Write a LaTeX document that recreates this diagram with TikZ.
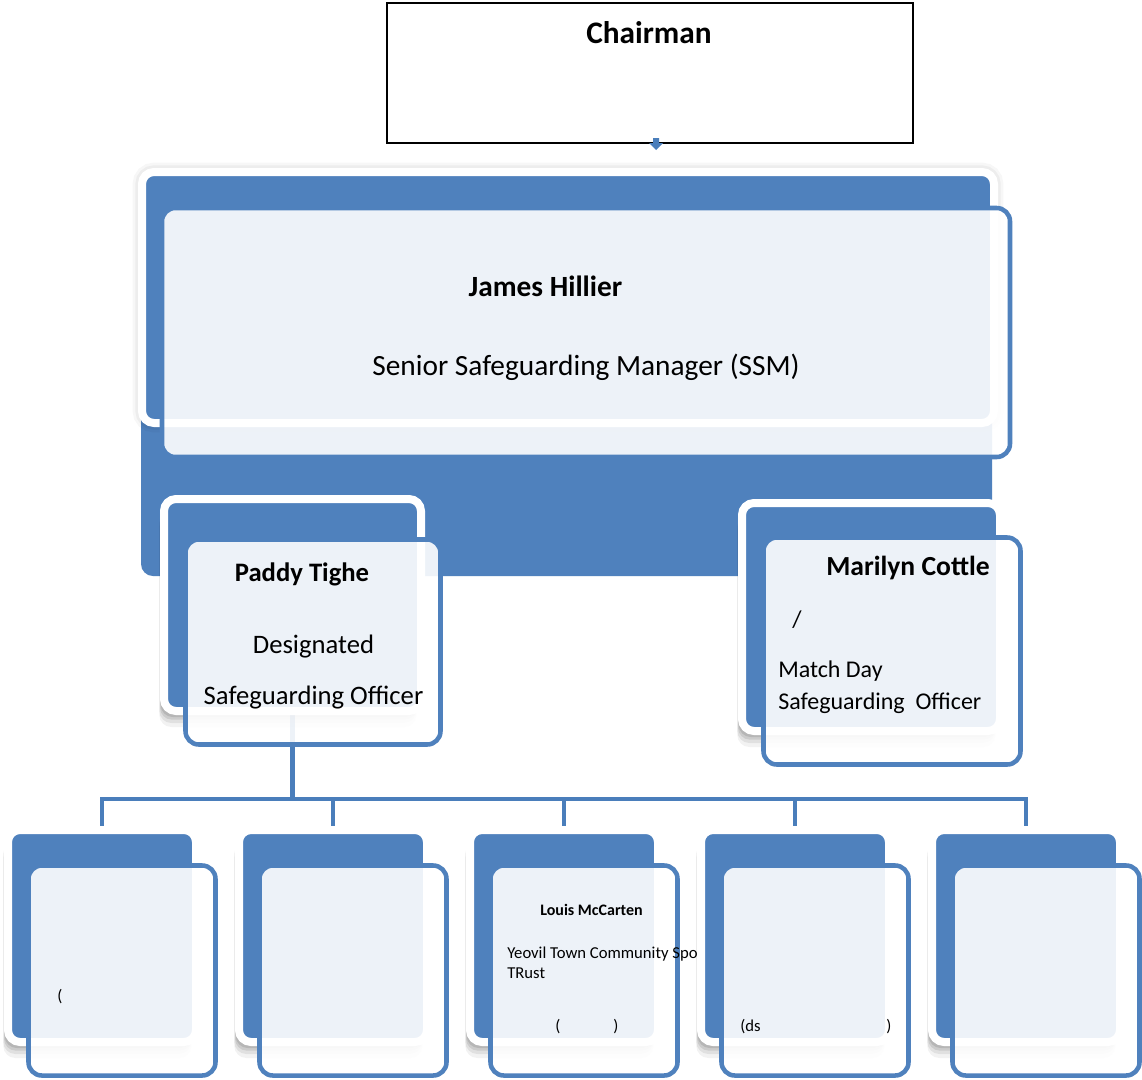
\documentclass[tikz,border=0pt]{standalone}
\usepackage{fontspec}
\setmainfont{Carlito}
\usetikzlibrary{fit}
\definecolor{obl}{HTML}{4F81BD}
\definecolor{cbl}{HTML}{4A7EBB}
\pgfdeclarelayer{bg}
\pgfdeclarelayer{mid}
\pgfsetlayers{bg,mid,main}
\begin{document}
\begin{tikzpicture}[x=0.75pt,y=-0.75pt,
  backplain/.style={rectangle, rounded corners=9pt, fill=obl, draw=white, line width=6pt, inner sep=0pt},
  backbox/.style={backplain,
    preaction={fill=black, fill opacity=0.05, draw=none, transform canvas={xshift=-3.5pt,yshift=-12pt}},
    preaction={fill=black, fill opacity=0.07, draw=none, transform canvas={xshift=-3.5pt,yshift=-9pt}},
    preaction={fill=black, fill opacity=0.09, draw=none, transform canvas={xshift=-3pt,yshift=-6.5pt}},
    preaction={fill=black, fill opacity=0.10, draw=none, transform canvas={xshift=-2.5pt,yshift=-4.5pt}}},
  halo/.style={preaction={draw=black, draw opacity=0.03, line width=14pt},
    preaction={draw=black, draw opacity=0.04, line width=10pt}},
  frontbox/.style={rectangle, rounded corners=10pt, fill=white, fill opacity=0.9, draw=obl, draw opacity=1, line width=3.4pt, inner sep=0pt},
  conn/.style={draw=cbl, line width=3.4pt},
  lbl/.style={inner sep=0pt, anchor=base, text=black},
  lblw/.style={inner sep=0pt, anchor=base west, text=black},
  big/.style={font=\fontsize{22}{26}\selectfont},
  bigb/.style={font=\bfseries\fontsize{22}{26}\selectfont},
  mid/.style={font=\fontsize{20}{24}\selectfont},
  midb/.style={font=\bfseries\fontsize{20}{24}\selectfont},
  sml/.style={font=\fontsize{12.5}{14}\selectfont},
  smlb/.style={font=\bfseries\fontsize{12}{14}\selectfont}]
\useasboundingbox (0,0) rectangle (1142,1079);
\begin{pgfonlayer}{bg}
\fill[white] (0,0) rectangle (1142,1079);
\end{pgfonlayer}

% Chairman
\node[rectangle, draw=black, line width=1.7pt, inner sep=0pt, fit={(387,3) (913,143)}] (chair) {};
\node[lbl, font=\bfseries\fontsize{23.5}{28}\selectfont] (chairt) at (649,43.5) {Chairman};
\coordinate (arr) at (656,143);
\fill[cbl] (arr) ++(-3,-5) -- ++(6,0) -- ++(0,5) -- ++(4,0) -- ++(-7,7) -- ++(-7,-7) -- ++(4,0) -- cycle;

% SSM group
\begin{pgfonlayer}{bg}
\node[rectangle, rounded corners=9pt, fill=obl, inner sep=0pt, fit={(141,176) (992,576)}] (ssmgroup) {};
\node[backplain, halo, fit={(142,172) (994,423)}] (ssmback) {};
\node[frontbox, fit={(162,208) (1010,457)}] (ssmfront) {};
\end{pgfonlayer}
\node[lbl, bigb] (ssmname) at (545.5,296) {James Hillier};
\node[lbl, big] (ssmrole) at (586,375) {Senior Safeguarding Manager (SSM)};

% Paddy
\node[backbox, fit={(164,499) (421,711)}] (pb) {};
\node[frontbox, fit={(185.5,539.5) (440.5,744.5)}] (pf) {};
\node[lbl, midb] (pname) at (302,581) {Paddy Tighe};
\node[lbl, mid] (prole1) at (313.5,653) {Designated};
\node[lbl, mid] (prole2) at (313.5,704) {Safeguarding Officer};

% Marilyn
\node[backbox, fit={(742,503) (1000,731)}] (mb) {};
\node[frontbox, fit={(763.5,537.5) (1020.5,764.5)}] (mf) {};
\node[lblw, font=\bfseries\fontsize{20.7}{24}\selectfont] (mname) at (826,575) {Marilyn Cottle};
\node[lblw, font=\fontsize{18}{22}\selectfont] (mslash) at (792,627) {/};
\node[lblw, font=\fontsize{18}{22}\selectfont] (mrole1) at (778,677) {Match Day};
\node[lblw, font=\fontsize{18}{22}\selectfont] (mrole2) at (778,709) {Safeguarding\ \ Officer};

% Children
\foreach \i in {0,...,4}{
  \node[backbox, fit={({8+231*\i},830) ({196+231*\i},1042)}] (c\i) {};
  \node[frontbox, fit={({28.5+231*\i},865.5) ({215.5+231*\i},1075.5)}] (f\i) {};
}
\coordinate (bar) at (0,799);
\begin{pgfonlayer}{mid}
\foreach \i in {0,...,4}{
  \draw[conn] (pb.south) -- (pb.south |- bar) -| (c\i.north);
}
\end{pgfonlayer}

% Child texts
\node[lblw, sml] (c0p) at (57,1001) {(};
\node[lbl, smlb] (c2name) at (591.5,915) {Louis McCarten};
\begin{scope}
\clip (500,940) rectangle (697,966);
\node[lblw, sml] (c2org) at (507,958) {Yeovil Town Community Sports};
\end{scope}
\node[lblw, sml] (c2org2) at (507,978) {TRust};
\node[lblw, sml] (c2pl) at (555,1031) {(};
\node[lblw, sml] (c2pr) at (613,1031) {)};
\node[lblw, sml] (c3pl) at (740,1031) {(ds};
\node[lblw, sml] (c3pr) at (886,1031) {)};
\end{tikzpicture}
\end{document}
